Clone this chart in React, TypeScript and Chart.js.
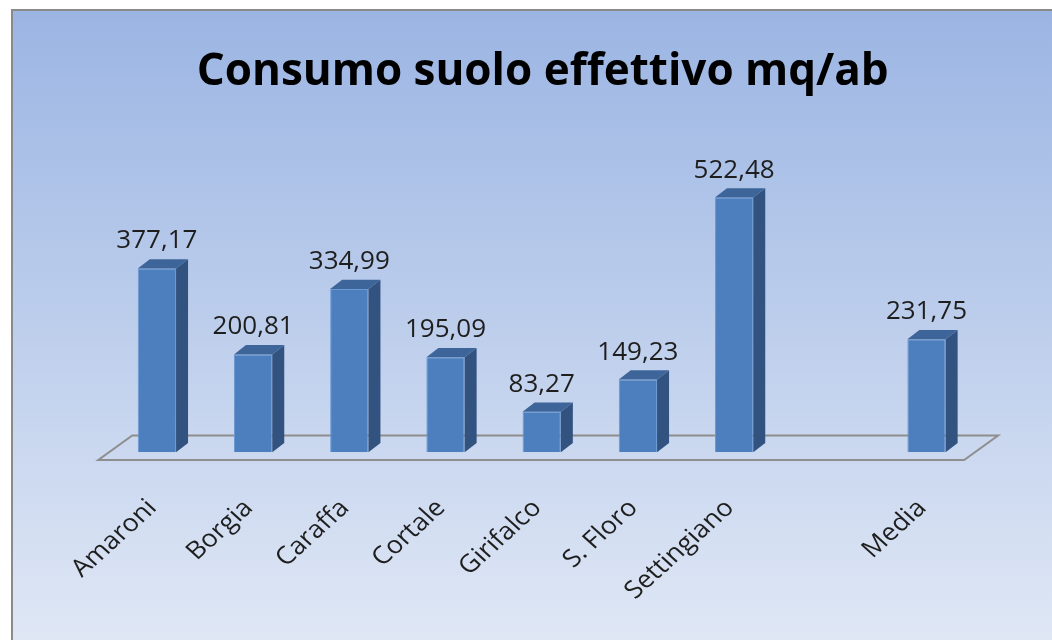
import React, { useEffect, useRef } from "react";
import { Chart, registerables } from "chart.js";

Chart.register(...registerables);

// ---- data ----
const TITLE = "Consumo suolo effettivo mq/ab";
const categories: string[] = [
  "Amaroni",
  "Borgia",
  "Caraffa",
  "Cortale",
  "Girifalco",
  "S. Floro",
  "Settingiano",
  "",
  "Media",
];
const values: (number | null)[] = [377.17, 200.81, 334.99, 195.09, 83.27, 149.23, 522.48, null, 231.75];
const Y_MIN = 0;
const Y_MAX = 600;

// ---- layout / style ----
const W = 1052;
const H = 640;
const PAD = { left: 108.8, right: W - 974.6, top: 159.8, bottom: H - 452.3 };
const FRONT = "#4D7FBE";
const EDGE = "#6A99D3";
const TOPC = "#3D6599";
const SIDE = "#325380";
const BAR_DEPTH = { x: 12, y: -9.3 };
const FLOOR_FRONT = { x: -10.5, y: 7.7 };
const FLOOR_DEPTH = { x: 34, y: -24.5 };
const TEXT = "#1E1E1E";
const FONT = "'Open Sans', 'Noto Sans', sans-serif";

const fmt = (v: number) => v.toFixed(2).replace(".", ",");

const excel3d = {
  id: "excel3d",
  beforeDraw(chart: any) {
    const ctx: CanvasRenderingContext2D = chart.ctx;
    ctx.save();
    ctx.fillStyle = "#ffffff";
    ctx.fillRect(0, 0, W, H);
    const g = ctx.createLinearGradient(0, 11, 0, H);
    g.addColorStop(0, "#9BB5E3");
    g.addColorStop(1, "#DFE7F5");
    ctx.fillStyle = g;
    ctx.fillRect(13, 11, W - 13, H - 11);
    ctx.fillStyle = "#8A8A8A";
    ctx.fillRect(11, 9, W - 11, 2);
    ctx.fillRect(11, 9, 2, H - 9);
    const ca = chart.chartArea;
    ctx.fillStyle = "#000000";
    ctx.font = `bold 44px ${FONT}`;
    ctx.textAlign = "center";
    ctx.textBaseline = "alphabetic";
    ctx.fillText(TITLE, (ca.left + ca.right) / 2 + 1, 85);
    ctx.restore();
  },
  beforeDatasetsDraw(chart: any) {
    const ctx: CanvasRenderingContext2D = chart.ctx;
    const { left, right, bottom } = chart.chartArea;
    const fl = left + FLOOR_FRONT.x;
    const fr = right + FLOOR_FRONT.x;
    const fy = bottom + FLOOR_FRONT.y;
    ctx.save();
    ctx.beginPath();
    ctx.moveTo(fl, fy);
    ctx.lineTo(fr, fy);
    ctx.lineTo(fr + FLOOR_DEPTH.x, fy + FLOOR_DEPTH.y);
    ctx.lineTo(fl + FLOOR_DEPTH.x, fy + FLOOR_DEPTH.y);
    ctx.closePath();
    ctx.strokeStyle = "#8E8E8E";
    ctx.lineWidth = 2;
    ctx.lineJoin = "miter";
    ctx.stroke();
    ctx.restore();
  },
  afterDatasetsDraw(chart: any) {
    const ctx: CanvasRenderingContext2D = chart.ctx;
    const meta = chart.getDatasetMeta(0);
    ctx.save();
    meta.data.forEach((el: any, i: number) => {
      const v = values[i];
      if (v == null) return;
      const { x, y, base, width } = el.getProps(["x", "y", "base", "width"], true);
      const l = x - width / 2;
      const r = x + width / 2;
      const dx = BAR_DEPTH.x;
      const dy = BAR_DEPTH.y;
      // side face
      ctx.beginPath();
      ctx.moveTo(r, y);
      ctx.lineTo(r + dx, y + dy);
      ctx.lineTo(r + dx, base + dy);
      ctx.lineTo(r, base);
      ctx.closePath();
      ctx.fillStyle = SIDE;
      ctx.fill();
      // top face
      ctx.beginPath();
      ctx.moveTo(l, y);
      ctx.lineTo(l + dx, y + dy);
      ctx.lineTo(r + dx, y + dy);
      ctx.lineTo(r, y);
      ctx.closePath();
      ctx.fillStyle = TOPC;
      ctx.fill();
      // value label
      ctx.fillStyle = TEXT;
      ctx.font = `26px ${FONT}`;
      ctx.textAlign = "center";
      ctx.textBaseline = "alphabetic";
      ctx.fillText(fmt(v), x, y - 20);
    });
    // category labels (rotated)
    const xs = chart.scales.x;
    categories.forEach((c, i) => {
      if (!c) return;
      const px = xs.getPixelForValue(i);
      ctx.save();
      ctx.translate(px + 1, 509);
      ctx.scale(1.1, 1);
      ctx.rotate(-Math.PI / 4);
      ctx.fillStyle = TEXT;
      ctx.font = `24.5px ${FONT}`;
      ctx.textAlign = "right";
      ctx.textBaseline = "alphabetic";
      ctx.fillText(c, 0, 0);
      ctx.restore();
    });
    ctx.restore();
  },
};

export default function App() {
  const ref = useRef<HTMLCanvasElement | null>(null);
  useEffect(() => {
    if (!ref.current) return;
    const chart = new Chart(ref.current, {
      type: "bar",
      data: {
        labels: categories,
        datasets: [
          {
            data: values,
            backgroundColor: FRONT,
            borderColor: EDGE,
            borderWidth: 1,
            categoryPercentage: 1,
            barPercentage: 0.398,
          },
        ],
      },
      options: {
        animation: false,
        responsive: false,
        devicePixelRatio: 1,
        layout: { padding: PAD },
        plugins: {
          legend: { display: false },
          title: { display: false },
          tooltip: { enabled: false },
        },
        scales: {
          x: { display: false, offset: true, grid: { display: false } },
          y: { display: false, min: Y_MIN, max: Y_MAX },
        },
      },
      plugins: [excel3d],
    });
    return () => chart.destroy();
  }, []);
  return (
    <div style={{ position: "fixed", left: 0, top: 0, width: W, height: H, background: "#fff" }}>
      <canvas ref={ref} width={W} height={H} style={{ display: "block" }} />
    </div>
  );
}
